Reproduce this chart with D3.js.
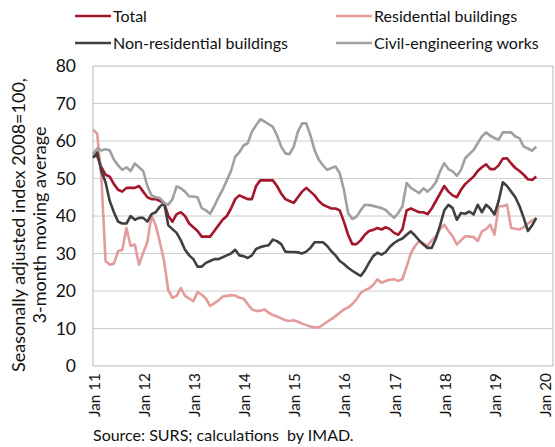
<!DOCTYPE html>
<html>
<head>
<meta charset="utf-8">
<script src="https://cdn.jsdelivr.net/npm/d3@7"></script>
<style>
    body { margin: 0; background: #fff; }
    svg { display: block; font-family: Lato, "Open Sans", sans-serif; }
</style>
</head>
<body>
<svg id="chart" width="555" height="447"></svg>
<script>
// monthly values, Jan 2011 .. Nov 2019
const total = [
    56, 56, 53, 51, 50.5, 48.5, 47, 46.5, 47.5, 47.5, 47.5, 48,
    46.5, 45, 44.5, 44.5, 44, 43.5, 40, 38.5, 40.5, 41, 40, 38,
    37, 36, 34.5, 34.5, 34.5, 36, 37.5, 39, 40, 42, 44.5, 45.5,
    45, 44.5, 44.5, 48, 49.5, 49.5, 49.5, 49.5, 48, 46, 44.5, 44,
    43.5, 45, 46.5, 47.5, 46.5, 45.5, 44, 43, 42.5, 42, 42, 41.5,
    38.5, 35, 32.5, 32.5, 33.5, 35, 36, 36.3, 36.8, 36.4, 37, 36.5,
    35.5, 35, 36.5, 41.5, 42, 41.5, 41, 41, 40.5, 42, 44, 46,
    48, 46.5, 45.5, 45, 47, 48.5, 49.5, 50.5, 52, 53, 53.8, 52.5,
    52.5, 53.5, 55.3, 55.4, 54, 52.8, 52, 51, 49.8, 49.6, 50.5
];
const residential = [
    63, 62, 50.5, 28, 27, 27.3, 30.6, 31, 36.8, 32, 32.4, 27,
    30.2, 33, 40.2, 37.5, 33, 28, 20.2, 18.2, 18.7, 20.8, 18.7, 18,
    17.3, 19.7, 19, 18, 16, 16.7, 17.5, 18.5, 18.7, 18.9, 18.8, 18.2,
    18, 16.5, 15.1, 14.7, 14.7, 15.1, 14.2, 13.6, 13.2, 12.7, 12.2, 12,
    12.2, 11.8, 11.3, 10.9, 10.5, 10.3, 10.3, 11, 11.8, 12.5, 13.3, 14.2,
    15.1, 15.6, 16.5, 17.8, 19.5, 20.2, 20.7, 21.6, 23.1, 22.2, 22.7, 23,
    23.1, 22.7, 23.2, 26.5, 30, 32, 33.3, 32.7, 32.1, 33.5, 34.6, 36.5,
    37.7, 36, 34.6, 32.4, 33.5, 34.6, 34.5, 34.4, 33.3, 35.9, 36.5, 37.7,
    35, 42.6, 42.6, 43, 36.8, 36.6, 36.4, 37, 38, 38.8, 39.3
];
const nonResidential = [
    55.5, 57, 52, 49, 44, 41, 38.5, 38, 38, 40, 39, 39.5,
    39.5, 38.5, 40.5, 41, 42.5, 43.5, 37.5, 36.5, 35.5, 33.5, 31, 29.5,
    28.5, 26.5, 26.5, 27.5, 28, 28.5, 28.5, 29, 29.5, 30, 31, 29.5,
    29.3, 28.8, 29.5, 31.2, 31.7, 32, 32.2, 33.7, 33.3, 32.5, 30.5, 30.4,
    30.4, 30.3, 30, 30.5, 31.5, 33, 33, 33, 32, 30.6, 29.5, 28,
    27.2, 26.2, 25.4, 24.7, 24, 25.5, 27.5, 29.3, 30.2, 29.7, 30.4, 31.8,
    32.8, 33.5, 34, 35, 35.9, 34.8, 33.5, 32.4, 31.5, 31.5, 34, 37.5,
    41.5, 43, 42.1, 39, 40.8, 40.6, 41.2, 40.4, 43, 41, 43, 42,
    40.4, 44, 49, 48, 46.5, 45, 42.6, 39.5, 36, 37.5, 39.5
];
const civilEngineering = [
    56.5, 58, 57.5, 57.8, 57.5, 55, 53.5, 52.3, 53, 52, 54, 53,
    52, 48, 45.5, 45, 44.8, 43.5, 43, 44.5, 47.9, 47.4, 46.5, 45.2,
    45.2, 45, 42.1, 41.5, 40.6, 42.6, 45, 47, 49.5, 52, 55.8, 57,
    58.8, 59.4, 62.5, 64.2, 65.8, 65.2, 64.5, 63.8, 61.5, 58.5, 56.7, 56.5,
    58.5, 62.5, 64.7, 64.7, 61.5, 57.5, 55, 53.5, 52.3, 52.8, 53.2, 51.4,
    47, 40.8, 39.2, 39.8, 41.5, 43, 42.9, 42.7, 42.4, 42.1, 41.6, 40.5,
    39.5, 40.8, 42.6, 48.8, 47.5, 46.8, 46.1, 47.4, 46.5, 47.5, 49, 51.9,
    54.1, 52.5, 51.9, 50.7, 52.3, 55.4, 56.5, 57.6, 59.4, 61.2, 62.3, 61.4,
    60.8, 60.3, 62.3, 62.3, 62.3, 61.2, 60.7, 58.5, 58, 57.4, 58.5
];

const seriesNames = ['Total', 'Residential buildings', 'Non-residential buildings', 'Civil-engineering works'];
const seriesColors = ['#a3162b', '#e39c9c', '#404040', '#a0a0a0'];
const xTickLabels = ['Jan 11', 'Jan 12', 'Jan 13', 'Jan 14', 'Jan 15', 'Jan 16', 'Jan 17', 'Jan 18', 'Jan 19', 'Jan 20'];
const yTicks = [0, 10, 20, 30, 40, 50, 60, 70, 80];

function drawChart(elementId) {
    const svg = d3.select(`#${elementId}`);
    const left = 93, right = 553, top = 66, bottom = 366;

    const x = d3.scaleLinear().domain([0, 110]).range([left, right]);
    const y = d3.scaleLinear().domain([0, 80]).range([bottom, top]);

    // grid
    svg.append('g')
        .selectAll('line')
        .data(yTicks.slice(1, -1))
        .join('line')
        .attr('x1', left).attr('x2', right)
        .attr('y1', d => y(d)).attr('y2', d => y(d))
        .attr('stroke', '#cccccc')
        .attr('stroke-width', 1);

    svg.append('rect')
        .attr('x', left).attr('y', top)
        .attr('width', right - left).attr('height', bottom - top)
        .attr('fill', 'none')
        .attr('stroke', '#c4c4c4')
        .attr('stroke-width', 1.2);

    // y tick labels
    svg.append('g')
        .selectAll('text')
        .data(yTicks)
        .join('text')
        .attr('x', 76)
        .attr('y', d => y(d))
        .attr('dy', '0.36em')
        .attr('text-anchor', 'end')
        .attr('font-size', 17.5)
        .attr('fill', '#111')
        .text(d => d);

    // x tick labels, rotated
    svg.append('g')
        .selectAll('text')
        .data(xTickLabels)
        .join('text')
        .attr('transform', (d, i) => `translate(${x(i * 12) + 1},373) rotate(-90)`)
        .attr('dy', '0.36em')
        .attr('text-anchor', 'end')
        .attr('font-size', 15.3)
        .attr('fill', '#111')
        .text(d => d);

    // y axis title
    const title = svg.append('text')
        .attr('transform', 'translate(0,225) rotate(-90)')
        .attr('text-anchor', 'middle')
        .attr('font-size', 18)
        .attr('fill', '#111');
    title.append('tspan').attr('x', 0).attr('y', 25).text('Seasonally adjusted index 2008=100,');
    title.append('tspan').attr('x', 0).attr('y', 45.5).text('3-month moving average');

    const line = d3.line()
        .x((d, i) => x(i))
        .y(d => y(d));

    const allSeries = [total, residential, nonResidential, civilEngineering];
    allSeries.forEach((values, i) => {
        svg.append('path')
            .datum(values)
            .attr('d', line)
            .attr('fill', 'none')
            .attr('stroke', seriesColors[i])
            .attr('stroke-width', 2.6)
            .attr('stroke-linejoin', 'round');
    });

    // legend
    const legendPos = [[75, 16], [336, 16], [75, 43], [336, 43]];
    seriesNames.forEach((name, i) => {
        const [lx, ly] = legendPos[i];
        svg.append('line')
            .attr('x1', lx).attr('x2', lx + 36)
            .attr('y1', ly).attr('y2', ly)
            .attr('stroke', seriesColors[i])
            .attr('stroke-width', 2.6);
        svg.append('text')
            .attr('x', lx + 38).attr('y', ly)
            .attr('dy', '0.36em')
            .attr('font-size', 16)
            .attr('fill', '#111')
            .text(name);
    });

    svg.append('text')
        .attr('x', 93).attr('y', 441)
        .attr('font-size', 16)
        .attr('fill', '#111')
        .attr('xml:space', 'preserve')
        .text('Source: SURS; calculations  by IMAD.');
}

drawChart('chart');
</script>
</body>
</html>
